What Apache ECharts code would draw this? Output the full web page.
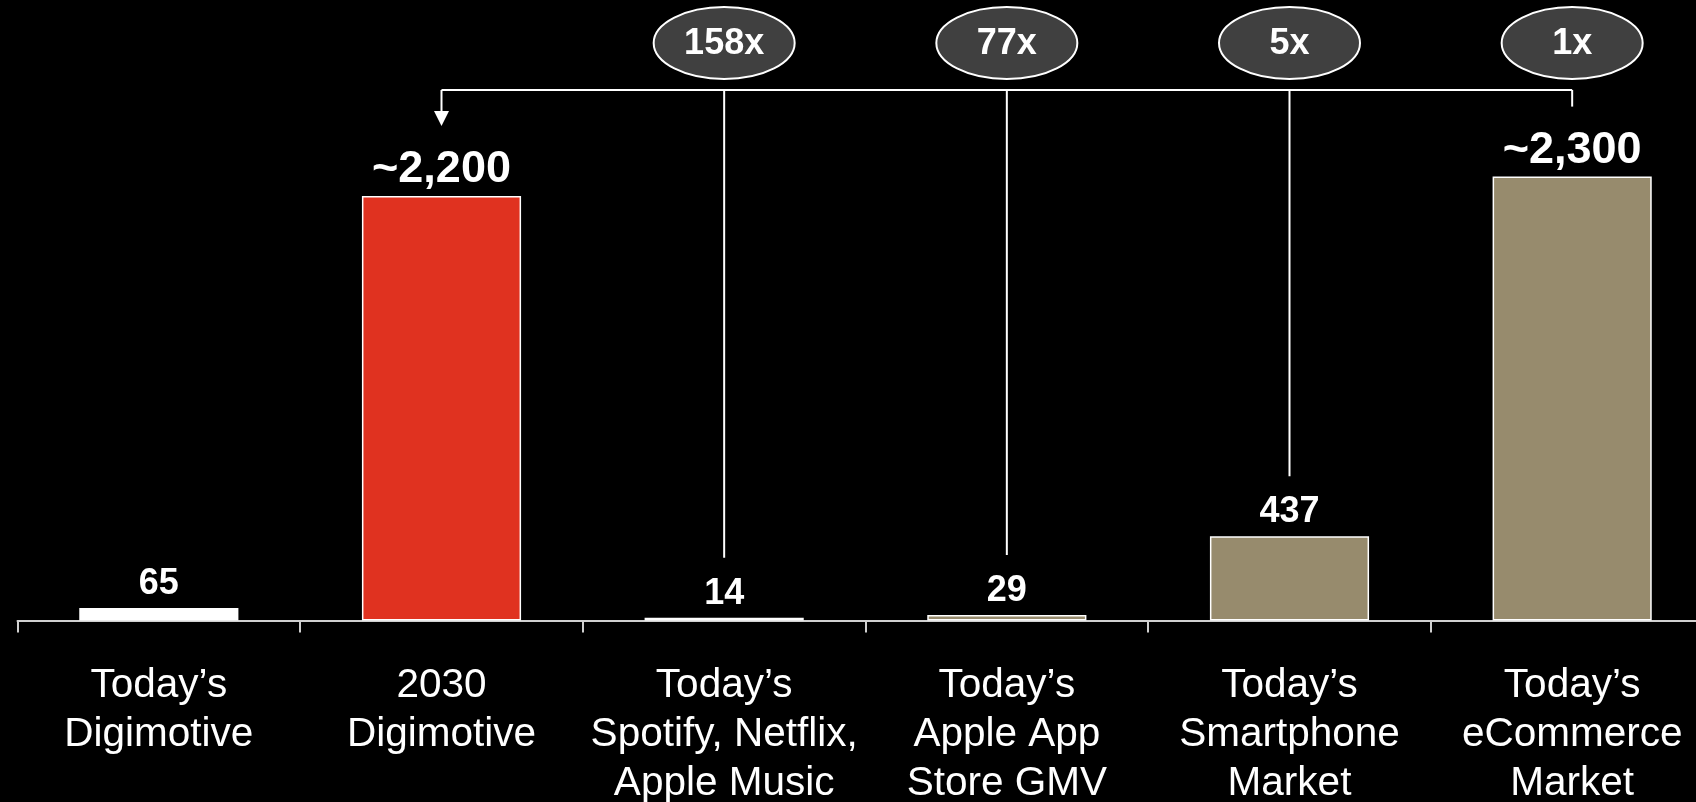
<!DOCTYPE html>
<html>
<head>
<meta charset="utf-8">
<title>Digimotive market size comparison</title>
<script src="https://cdn.jsdelivr.net/npm/echarts@6/dist/echarts.min.js"></script>
<style>
  html, body { margin: 0; padding: 0; background: #000; }
  #chart { width: 1696px; height: 802px; }
</style>
</head>
<body>
<div id="chart"></div>
<script>
// Market sizes (bn) and their printed labels
const categories = [
  "Today\u2019s\nDigimotive",
  "2030\nDigimotive",
  "Today\u2019s\nSpotify, Netflix,\nApple Music",
  "Today\u2019s\nApple App\nStore GMV",
  "Today\u2019s\nSmartphone\nMarket",
  "Today\u2019s\neCommerce\nMarket"
];
const values = [65, 2200, 14, 29, 437, 2300];
const valueLabels = ["65", "~2,200", "14", "29", "437", "~2,300"];
// How many times each market fits into the 2030 Digimotive market
const multiples = [null, null, "158x", "77x", "5x", "1x"];
const barColors = ["#ffffff", "#e03220", "#978b6d", "#978b6d", "#978b6d", "#978b6d"];

const FONT = "Arial, 'Liberation Sans', Helvetica, sans-serif";
const ARROW_TARGET = 1;          // the bracket points at the 2030 bar
const BRACKET_Y = 90;            // pixel row of the horizontal bracket
const OVAL_Y = 43;               // pixel row of the multiplier ovals

const isBig = (i) => valueLabels[i].startsWith("~");

const barData = values.map((v, i) => ({
  value: v,
  itemStyle: { color: barColors[i] },
  label: {
    formatter: valueLabels[i],
    fontSize: isBig(i) ? 45 : 36,
    distance: isBig(i) ? 4 : 6
  }
}));

// one connector per market compared with the 2030 bar
const connectorData = [];
for (let i = ARROW_TARGET; i < values.length; i++) {
  connectorData.push([i, values[i], multiples[i] || ""]);
}
const lastIdx = values.length - 1;

function renderConnector(params, api) {
  const i = api.value(0);
  const v = api.value(1);
  const tag = connectorData[params.dataIndex][2];
  const p = api.coord([i, v]);
  const x = p[0];
  const yEnd = p[1] - (isBig(i) ? 70 : 60);
  const lineStyle = { stroke: "#ffffff", lineWidth: 2 };
  const children = [];

  if (i === ARROW_TARGET) {
    const xEnd = api.coord([lastIdx, 0])[0];
    children.push({
      type: "line",
      shape: { x1: x, y1: BRACKET_Y, x2: xEnd, y2: BRACKET_Y },
      style: lineStyle
    });
    children.push({
      type: "line",
      shape: { x1: x, y1: BRACKET_Y, x2: x, y2: yEnd - 14 },
      style: lineStyle
    });
    children.push({
      type: "polygon",
      shape: { points: [[x - 7.5, yEnd - 15], [x + 7.5, yEnd - 15], [x, yEnd]] },
      style: { fill: "#ffffff" }
    });
  } else {
    children.push({
      type: "line",
      shape: { x1: x, y1: BRACKET_Y, x2: x, y2: yEnd },
      style: lineStyle
    });
  }

  if (tag) {
    children.push({
      type: "ellipse",
      shape: { cx: x, cy: OVAL_Y, rx: 70.5, ry: 36 },
      style: { fill: "#404040", stroke: "#ffffff", lineWidth: 2 }
    });
    children.push({
      type: "text",
      x: x,
      y: OVAL_Y + 1,
      style: {
        text: tag,
        fill: "#ffffff",
        font: "bold 36px " + FONT,
        align: "center",
        verticalAlign: "middle"
      }
    });
  }
  return { type: "group", children: children };
}

const chart = echarts.init(document.getElementById("chart"), null, { renderer: "canvas" });
chart.setOption({
  backgroundColor: "#000000",
  animation: false,
  grid: {
    left: 17.5,
    top: 41.5,
    width: 1696,
    height: 579,
    containLabel: false,
    outerBoundsMode: "none"
  },
  xAxis: {
    type: "category",
    data: categories,
    axisLine: { lineStyle: { color: "#d0d0d0", width: 2 } },
    axisTick: { show: true, length: 12, lineStyle: { color: "#d0d0d0", width: 2 } },
    axisLabel: {
      interval: 0,
      color: "#ffffff",
      fontFamily: FONT,
      fontSize: 40.5,
      lineHeight: 49,
      margin: 41
    }
  },
  yAxis: {
    type: "value",
    min: 0,
    max: 3000,
    show: false,
    splitLine: { show: false }
  },
  series: [
    {
      type: "bar",
      data: barData,
      barWidth: "56.3%",
      itemStyle: { borderColor: "#ffffff", borderWidth: 1.5 },
      label: {
        show: true,
        position: "top",
        color: "#ffffff",
        fontWeight: "bold",
        fontFamily: FONT
      }
    },
    {
      type: "custom",
      coordinateSystem: "cartesian2d",
      renderItem: renderConnector,
      data: connectorData,
      encode: { x: 0, y: 1 },
      z: 5
    }
  ]
});
</script>
</body>
</html>
